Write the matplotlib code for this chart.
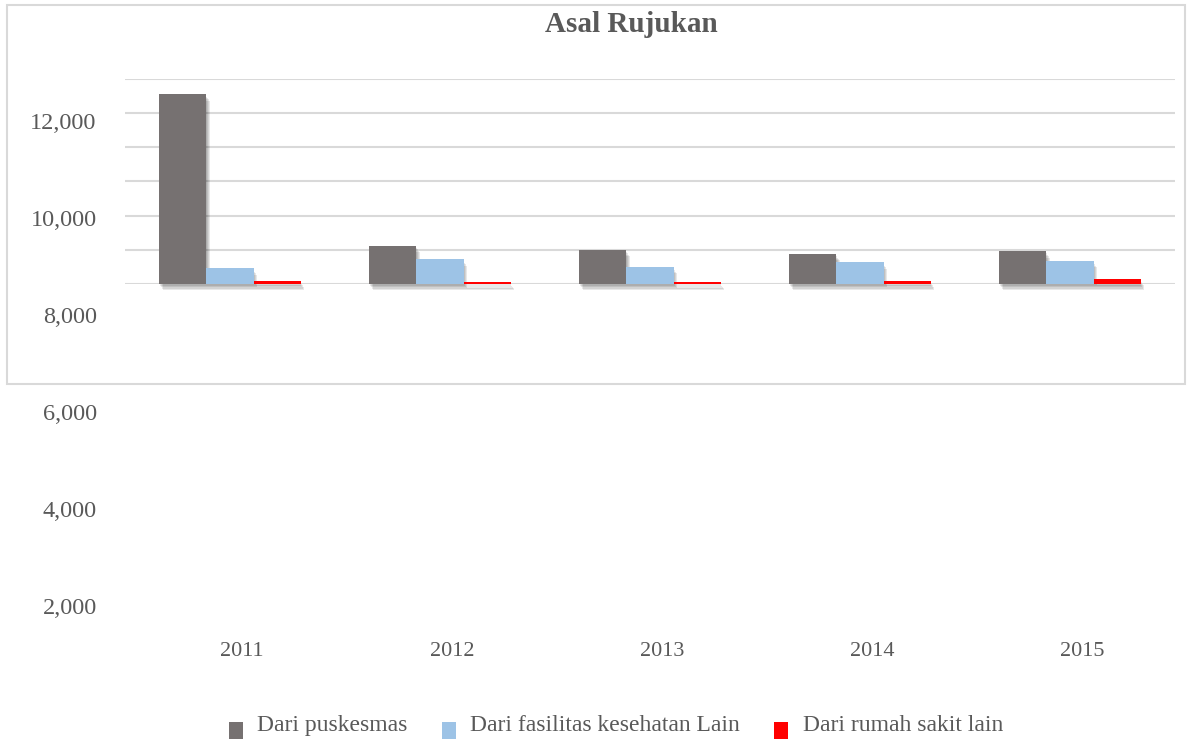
import matplotlib
matplotlib.use("Agg")
import matplotlib.pyplot as plt
import matplotlib.patheffects as pe
from matplotlib.patches import Patch, Rectangle
from matplotlib.legend_handler import HandlerPatch
import numpy as np

# Data
years = ["2011", "2012", "2013", "2014", "2015"]
series_names = ["Dari puskesmas", "Dari fasilitas kesehatan Lain", "Dari rumah sakit lain"]
puskesmas = [11080, 2220, 1990, 1750, 1910]
fasilitas_lain = [920, 1440, 1010, 1270, 1360]
rumah_sakit_lain = [200, 110, 110, 200, 300]
outer_ticks = [2000, 4000, 6000, 8000, 10000, 12000]

colors = ["#767171", "#9DC3E6", "#FF0000"]
text_color = "#595959"
grid_color = "#D9D9D9"

plt.rcParams["font.family"] = ["Liberation Serif", "DejaVu Serif"]

W, H = 1195, 740
fig = plt.figure(figsize=(W / 100, H / 100), dpi=100)
fig.patch.set_facecolor("white")


def box(x0, y0, x1, y1):
    """Convert pixel box (top-left origin) to figure fraction rect."""
    return [x0 / W, 1 - y1 / H, (x1 - x0) / W, (y1 - y0) / H]


# Chart frame
fig.add_artist(Rectangle((7 / W, 1 - 384 / H), (1185 - 7) / W, (384 - 5) / H,
                         transform=fig.transFigure, fill=False,
                         edgecolor=grid_color, linewidth=1.5, zorder=0))

# Inner plot area with bars
ax = fig.add_axes(box(125, 78.7, 1175, 284))
ax.set_xlim(-0.5, len(years) - 0.5)
ax.set_ylim(0, 12000)
ax.set_yticks(np.arange(0, 12001, 2000))
ax.grid(axis="y", color=grid_color, linewidth=1.5)
ax.set_axisbelow(True)
for s in ax.spines.values():
    s.set_visible(False)
ax.tick_params(left=False, bottom=False, labelleft=False, labelbottom=False)

x = np.arange(len(years))
bw = 0.224
# soft drop shadow built from a few faint offset layers
shadow = [pe.SimplePatchShadow(offset=(dx, dy), shadow_rgbFace="#000000", alpha=0.09)
          for dx, dy in [(0.5, -1.5), (1.2, -2.5), (2.0, -3.5), (2.8, -4.5)]] + [pe.Normal()]
for i, vals in enumerate([puskesmas, fasilitas_lain, rumah_sakit_lain]):
    bars = ax.bar(x + (i - 1) * bw, vals, width=bw, color=colors[i], zorder=3)
    for b in bars:
        b.set_clip_on(False)
        b.set_path_effects(shadow)

# Title
fig.text(631 / W, 1 - 24 / H, "Asal Rujukan", ha="center", va="center",
         fontsize=21, fontweight="bold", color=text_color)

# Outer value / category axis
top_px, bot_px = 121, 636
px_per_unit = (606 - 121) / 10000
ax2 = fig.add_axes(box(137, top_px, 1187, bot_px))
ax2.patch.set_visible(False)
ax2.set_ylim(12000 - (bot_px - top_px) / px_per_unit, 12000)
ax2.set_xlim(-0.5, len(years) - 0.5)
ax2.set_yticks(outer_ticks)
ax2.set_yticklabels([f"{v:,}" for v in outer_ticks])
ax2.set_xticks(x)
ax2.set_xticklabels(years)
for s in ax2.spines.values():
    s.set_visible(False)
ax2.tick_params(axis="y", length=0, pad=29, labelsize=17.5, labelcolor=text_color)
ax2.tick_params(axis="x", length=0, pad=4, labelsize=16, labelcolor=text_color)


# Legend: square keys sitting slightly below the text centre
def low_square(legend, orig_handle, xdescent, ydescent, width, height, fontsize):
    return Rectangle((-xdescent, -ydescent - 0.45 * height), width, height)


handles = [Patch(facecolor=c, edgecolor="none") for c in colors]
fig.legend(handles, series_names, loc="center", bbox_to_anchor=(616 / W, 1 - 725 / H),
           ncol=3, frameon=False, fontsize=17, labelcolor=text_color,
           handlelength=0.59, handleheight=0.75, handletextpad=0.62, columnspacing=1.45,
           handler_map={Patch: HandlerPatch(patch_func=low_square)})

fig.savefig("out.png", dpi=100, facecolor="white")
